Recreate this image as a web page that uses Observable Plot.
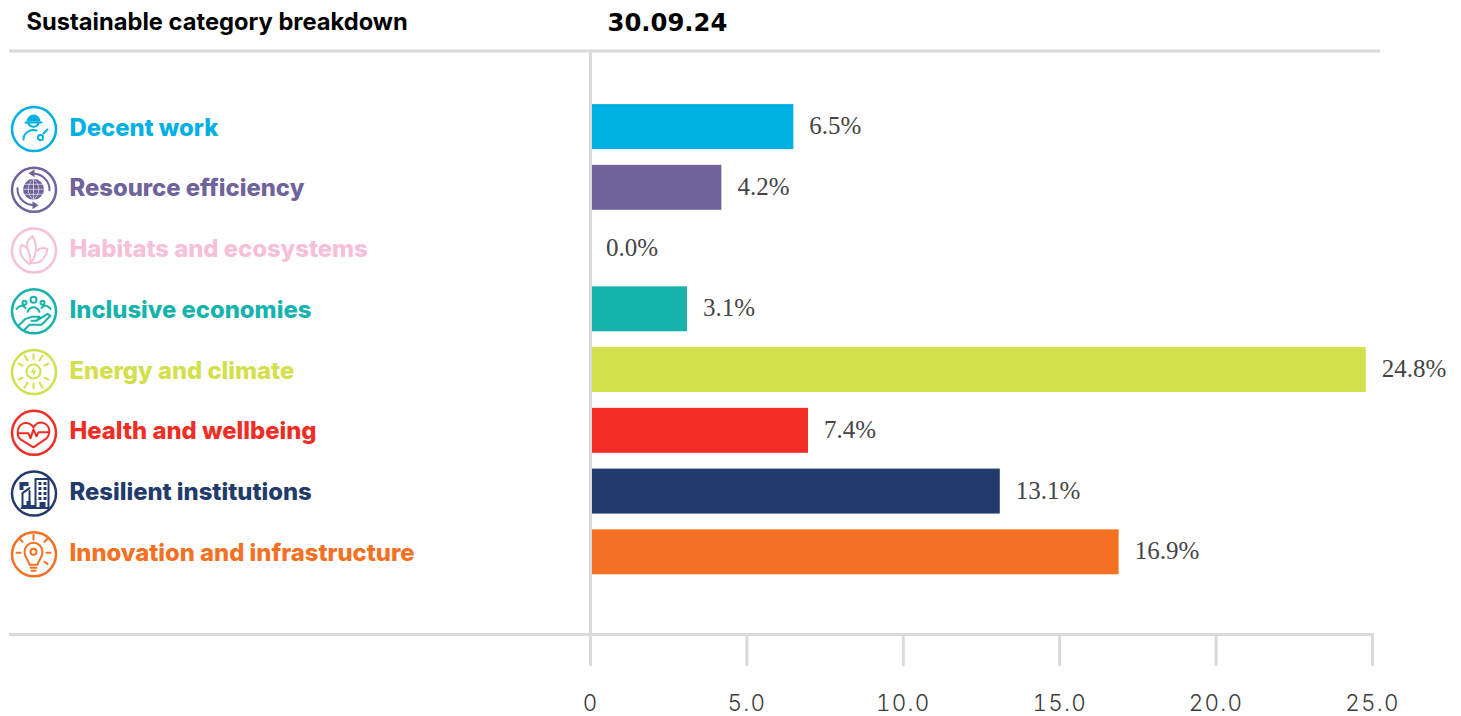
<!DOCTYPE html>
<html><head><meta charset="utf-8">
<script src="https://cdn.jsdelivr.net/npm/d3@7"></script>
<script src="https://cdn.jsdelivr.net/npm/@observablehq/plot@0.6"></script>
<style>
html,body{margin:0;padding:0;background:#fff}
svg{display:block}
svg [aria-label="x-axis tick label"]{letter-spacing:1.2px}
</style></head><body><div id="chart"></div>
<script>
const categories = ["Decent work","Resource efficiency","Habitats and ecosystems","Inclusive economies","Energy and climate","Health and wellbeing","Resilient institutions","Innovation and infrastructure"];
// Bar lengths as drawn (the Health bar is drawn shorter than its printed label)
const barValues = [6.5,4.2,0.0,3.1,24.8,6.97,13.1,16.9];
const valueLabels = ["6.5%","4.2%","0.0%","3.1%","24.8%","7.4%","13.1%","16.9%"];
const colors = ["#00b0e3","#70639b","#f6c0d9","#16b3ad","#d1e04c","#f12d25","#223a6c","#f47023"];
const tickValues = [0,5,10,15,20,25];
const title = "Sustainable category breakdown";
const dateLabel = "30.09.24";

const rows = categories.map((category,i)=>({category,value:barValues[i],label:valueLabels[i]}));

// Icon glyphs, in a local frame centred on each circle: s = stroked, f = filled, w = white detail
const icons = {
 "Decent work":{s:"M-8-6H8M-5-5A5.5 5.5 0 0 0 5-5M-10 11A10 9 0 0 1 3 2M10 5L14 1M4.4 9a2.6 2.6 0 1 0 5.2 0a2.6 2.6 0 1 0-5.2 0",f:"M-7-7A7 7 0 0 1 7-7Z"},
 "Resource efficiency":{s:"M-2-15.5A16 16 0 0 1 16 1M2 15.5A16 16 0 0 1-16-1",f:"M-5-16L1-20V-12ZM5 16L-1 12V20ZM0-10.5A10.5 10.5 0 1 1 0 10.5A10.5 10.5 0 1 1 0-10.5Z",w:"M-10.5 0H10.5M-10-5H10M-10 5H10M0-10.5V10.5M0-10.5C-7-5-7 5 0 10.5M0-10.5C7-5 7 5 0 10.5"},
 "Habitats and ecosystems":{s:"M-4 14C-13 8-15 0-12-5C-6-4-3 2-3 13C5 4 3-8-1-14C-6-10-7-6-6-2M-2 13C7 14 12 8 14-1C10-3 6-2 3 1",f:""},
 "Inclusive economies":{s:"M-15 15L-8 8L-2 6H6L3 10H-2M3 10L14 3L17 5L8 14H-4L-9 19M-17-2C-14-6-10-6-8-3M-6 1C-3-5 3-5 6 1M8-3C10-6 14-6 17-2M-3-11a3 3 0 1 0 6 0a3 3 0 1 0-6 0M-11-8a2 2 0 1 0 4 0a2 2 0 1 0-4 0M7-8a2 2 0 1 0 4 0a2 2 0 1 0-4 0",f:""},
 "Energy and climate":{s:"M-7 0A7 7 0 1 1 7 0A7 7 0 1 1-7 0M0-12V-17M0 12V17M-6-11L-9-16M6-11L9-16M-6 11L-9 16M6 11L9 16M11-6L15-8M-11-6L-15-8M11 6L15 8M-11 6L-15 8",f:"M1-5L-3 1H0L-1 5L3-1H0Z"},
 "Health and wellbeing":{s:"M0 15L-13 7C-18 3-16-7-10-9C-5-10-2-8 0-5C2-8 6-11 11-9C17-6 17 2 13 6ZM-15 1H-5L-3 6L0-3L3 4L5 0H14",f:""},
 "Resilient institutions":{s:"M-11 14V0L-4-5M-12 15H15V-14H2V15M-4 15V-2",f:"M-14-11H-5V-7H-14ZM-14-7H-10V-3H-14ZM-11 14V16H2V12H-11ZM-7 8H-3V12H-7ZM5-11H8V-8H5ZM10-11H13V-8H10ZM5-6H8V-3H5ZM10-6H13V-3H10ZM5-1H8V2H5ZM10-1H13V2H10ZM5 4H8V7H5ZM10 4H13V7H10ZM6 9H12V15H6Z"},
 "Innovation and infrastructure":{s:"M-4 11C-5 6-9 4-9-2A9 9 0 0 1 9-2C9 4 5 6 4 11ZM-3 14H3M-2 17H2M-3-2A3 3 0 1 0 3-2A3 3 0 1 0-3-2M0-14V-19M-11-12L-14-15M11-12L14-15M-13-1H-17M13-1H17M11 8L14 10",f:""}
};

const colorOf = c => colors[categories.indexOf(c)];

const chart = Plot.plot({
  width:1461, height:716,
  marginTop:50.5, marginBottom:82, marginLeft:10, marginRight:89,
  x:{domain:[0,25], range:[590,1372], axis:null},
  y:{domain:categories, range:[96.2,582.2], paddingInner:0.26, paddingOuter:0.13, round:false, axis:null},
  color:{type:"categorical", domain:categories, range:colors},
  marks:[
    Plot.barX(rows,{x:"value", y:"category", fill:"category", insetLeft:1}),
    Plot.ruleX([0],{stroke:"#d9d9de", strokeWidth:3}),
    Plot.frame({anchor:"top", stroke:"#d9d9de", strokeWidth:3, insetRight:-6}),
    Plot.frame({anchor:"bottom", stroke:"#d9d9de", strokeWidth:3}),
    Plot.axisX({ticks:tickValues, tickSize:32, tickPadding:29, strokeWidth:3, stroke:"#d9d9de", fill:"#3c3c3c", label:null,
      tickFormat:d=>d===0?"0":d.toFixed(1), fontFamily:"Inter", fontWeight:300, fontSize:22.5}),
    Plot.text(rows,{x:"value", y:"category", text:"label", textAnchor:"start", dx:15.5, dy:-1, fill:"#444", fontFamily:"Liberation Serif", fontSize:25}),
    Plot.text(rows,{x:0, y:"category", text:"category", fill:"category", textAnchor:"start", dx:-521, dy:1, fontFamily:"Inter", fontWeight:800, fontSize:23.8}),
    Plot.dot(rows,{x:0, y:"category", stroke:"category", r:22, strokeWidth:2.5, dx:-556.5, dy:2}),
    Plot.dot(rows,{x:0, y:"category", r:0, render(index,scales,vals){
      const g = d3.create("svg:g");
      const off = scales.y.bandwidth ? scales.y.bandwidth()/2 : 0;
      for (const i of index){
        const cat = categories[i], c = colorOf(cat), ic = icons[cat];
        const t = g.append("g").attr("transform",`translate(${vals.x[i]-556.5},${vals.y[i]+off+2})`);
        if (ic.f) t.append("path").attr("d",ic.f).attr("fill",c);
        t.append("path").attr("d",ic.s).attr("fill","none").attr("stroke",c).attr("stroke-width",2).attr("stroke-linecap","round").attr("stroke-linejoin","round");
        if (ic.w) t.append("path").attr("d",ic.w).attr("fill","none").attr("stroke","#fff").attr("stroke-opacity",0.75).attr("stroke-width",0.8);
      }
      return g.node();
    }}),
    Plot.text([title],{frameAnchor:"top-left", dx:16, dy:-37.5, lineAnchor:"top", fontFamily:"Inter", fontWeight:700, fontSize:23.7, fill:"#000"}),
    Plot.text([dateLabel],{frameAnchor:"top-left", dx:597, dy:-37.5, lineAnchor:"top", fontFamily:"DejaVu Sans", fontWeight:700, fontSize:24.3, fill:"#000"})
  ]
});
document.getElementById("chart").appendChild(chart);
</script></body></html>
